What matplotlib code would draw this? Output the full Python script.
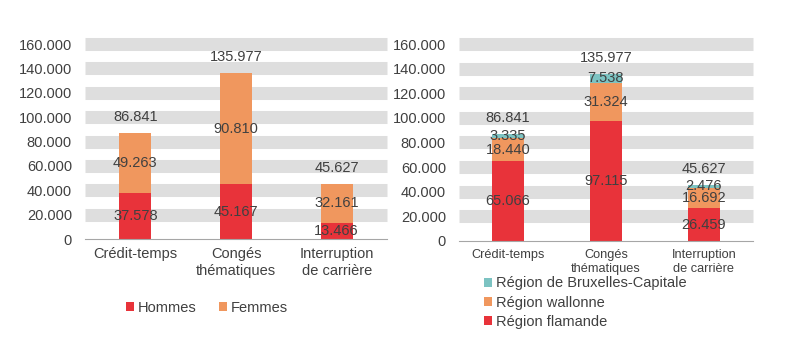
import matplotlib.pyplot as plt
import numpy as np

# Data
categories = ["Crédit-temps", "Congés\nthématiques", "Interruption\nde carrière"]
hommes = [37578, 45167, 13466]
femmes = [49263, 90810, 32161]
flamande = [65066, 97115, 26459]
wallonne = [18440, 31324, 16692]
bruxelles = [3335, 7538, 2476]
yticks = [0, 20000, 40000, 60000, 80000, 100000, 120000, 140000, 160000]

RED = "#E8333A"
ORANGE = "#F0975E"
TEAL = "#7CC3C2"
TXT = "#404040"
BAND = "#DEDEDE"

plt.rcParams["font.family"] = ["Liberation Sans", "DejaVu Sans"]
plt.rcParams["text.color"] = TXT


def fmt(v):
    return f"{v:,}".replace(",", ".")


def style_axes(ax, cat_size):
    ax.set_ylim(0, 160000)
    ax.set_xlim(-0.5, 2.5)
    ax.set_yticks(yticks)
    ax.set_yticklabels([fmt(t) for t in yticks], fontsize=10.5, color=TXT)
    ax.set_xticks(range(len(categories)))
    ax.set_xticklabels(categories, fontsize=cat_size, color=TXT)
    ax.tick_params(length=0)
    ax.tick_params(axis="y", pad=9.4)
    ax.tick_params(axis="x", pad=6)
    for s in ["top", "right", "left"]:
        ax.spines[s].set_visible(False)
    ax.spines["bottom"].set_color("#A6A6A6")
    ax.spines["bottom"].set_zorder(3)
    # thick grey bands instead of thin gridlines
    for t in yticks[1:]:
        ax.axhline(t, color=BAND, lw=9.4, zorder=0, clip_on=False,
                   solid_capstyle="butt")


def label_stack(ax, x, series):
    bottom = np.zeros(len(x))
    for vals in series:
        for xi, b, v in zip(x, bottom, vals):
            ax.text(xi, b + v / 2, fmt(v), ha="center", va="center",
                    fontsize=10.5, color=TXT, zorder=4)
        bottom = bottom + np.array(vals)
    for xi, tot in zip(x, bottom):
        ax.text(xi, tot + 13000, fmt(int(tot)), ha="center", va="center",
                fontsize=10.5, color=TXT, zorder=4)


fig = plt.figure(figsize=(7.9, 3.58), dpi=100)
ax1 = fig.add_axes([0.1076, 0.332, 0.3823, 0.545])
ax2 = fig.add_axes([0.581, 0.327, 0.372, 0.550])

x = np.arange(len(categories))
w = 0.32

# Left panel: by gender
b1 = ax1.bar(x, hommes, w, color=RED, zorder=2, label="Hommes")
b2 = ax1.bar(x, femmes, w, bottom=hommes, color=ORANGE, zorder=2, label="Femmes")
style_axes(ax1, 10.5)
label_stack(ax1, x, [hommes, femmes])

# Right panel: by region
bot2 = np.array(flamande) + np.array(wallonne)
r1 = ax2.bar(x, flamande, w, color=RED, zorder=2, label="Région flamande")
r2 = ax2.bar(x, wallonne, w, bottom=flamande, color=ORANGE, zorder=2,
             label="Région wallonne")
r3 = ax2.bar(x, bruxelles, w, bottom=bot2, color=TEAL, zorder=2,
             label="Région de Bruxelles-Capitale")
style_axes(ax2, 9.2)
label_stack(ax2, x, [flamande, wallonne, bruxelles])

fig.legend(handles=[b1, b2], loc="center", bbox_to_anchor=(0.262, 0.14),
           ncol=2, frameon=False, fontsize=10.5, handlelength=0.55,
           handleheight=0.55, handletextpad=0.3, columnspacing=1.5,
           borderpad=0)
fig.legend(handles=[r3, r2, r1], loc="center left",
           bbox_to_anchor=(0.603, 0.155), ncol=1, frameon=False,
           fontsize=10.5, handlelength=0.55, handleheight=0.55,
           handletextpad=0.3, labelspacing=0.35, borderpad=0)

fig.savefig("out.png", dpi=100)
